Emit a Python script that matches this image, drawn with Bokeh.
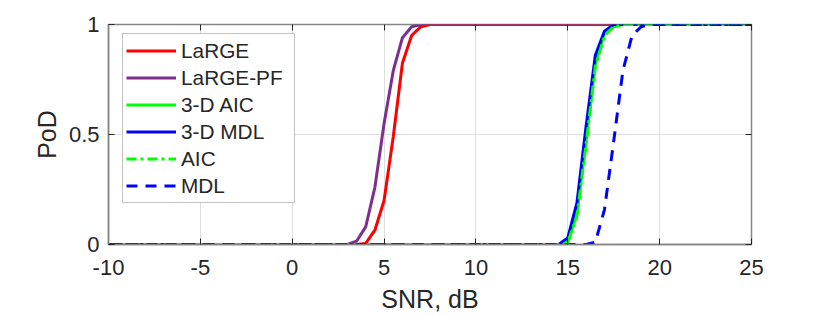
from bokeh.plotting import figure
from bokeh.models import (Legend, LegendItem, LinearAxis, FixedTicker, Range1d)
from bokeh.embed import file_html
from bokeh.resources import INLINE

# ---- data ----
large_x = [-10, 3.5, 4.0, 4.5, 5.0, 5.5, 6.0, 6.5, 7.0, 7.5, 25]
large_y = [0, 0, 0.005, 0.065, 0.20, 0.49, 0.825, 0.95, 0.99, 1, 1]

largepf_x = [-10, 3.0, 3.5, 4.0, 4.5, 5.0, 5.5, 6.0, 6.5, 7.0, 25]
largepf_y = [0, 0, 0.015, 0.08, 0.26, 0.55, 0.79, 0.94, 0.99, 1, 1]

aic3d_x = [-10, 14.5, 15.0, 15.5, 16.0, 16.5, 17.0, 17.5, 18.0, 25]
aic3d_y = [0, 0, 0.01, 0.14, 0.47, 0.82, 0.96, 0.99, 1, 1]

mdl3d_x = [-10, 14.5, 15.0, 15.5, 16.0, 16.5, 17.0, 17.5, 25]
mdl3d_y = [0, 0, 0.03, 0.19, 0.54, 0.86, 0.97, 1, 1]

aic_x = [-10, 14.5, 15.0, 15.5, 16.0, 16.5, 17.0, 17.5, 18.0, 25]
aic_y = [0, 0, 0.01, 0.13, 0.46, 0.81, 0.95, 0.99, 1, 1]

mdl_x = [-10, 16.0, 16.5, 17.0, 17.5, 18.0, 18.5, 19.0, 19.5, 25]
mdl_y = [0, 0, 0.01, 0.16, 0.47, 0.79, 0.95, 0.99, 1, 1]

x_ticks = [-10, -5, 0, 5, 10, 15, 20, 25]
x_tick_labels = {-10: "-10", -5: "-5", 0: "0", 5: "5", 10: "10", 15: "15", 20: "20", 25: "25"}
y_ticks = [0, 0.5, 1]
y_tick_labels = {0: "0", 0.5: "0.5", 1: "1"}

FONT = "Liberation Sans"
TXT = "#262626"
AX = "#858585"

p = figure(width=830, height=316, output_backend="svg", toolbar_location=None,
           x_range=Range1d(-10, 25), y_range=Range1d(0, 1),
           min_border_left=108, min_border_right=79,
           min_border_top=24, min_border_bottom=72)
p.background_fill_color = "white"
p.border_fill_color = "white"
p.outline_line_color = AX
p.outline_line_width = 1.5

for ax in (p.xaxis[0], p.yaxis[0]):
    ax.axis_line_color = AX
    ax.axis_line_width = 1.5
    ax.major_tick_line_color = TXT
    ax.major_tick_in = 6
    ax.major_tick_out = 0
    ax.minor_tick_in = 0
    ax.minor_tick_out = 0
    ax.major_label_text_font = FONT
    ax.major_label_text_font_size = "22px"
    ax.major_label_text_color = TXT
    ax.axis_label_text_font = FONT
    ax.axis_label_text_font_size = "25px"
    ax.axis_label_text_font_style = "normal"
    ax.axis_label_text_color = TXT

p.xaxis[0].ticker = FixedTicker(ticks=x_ticks)
p.xaxis[0].major_label_overrides = x_tick_labels
p.yaxis[0].ticker = FixedTicker(ticks=y_ticks)
p.yaxis[0].major_label_overrides = y_tick_labels
p.xaxis[0].axis_label = "SNR, dB"
p.yaxis[0].axis_label = "PoD"
p.xaxis[0].major_label_standoff = 15
p.yaxis[0].major_label_standoff = 9
p.xaxis[0].axis_label_standoff = 7
p.yaxis[0].axis_label_standoff = 5

# box ticks on top and right (no labels)
top = LinearAxis(ticker=FixedTicker(ticks=x_ticks),
                 major_label_overrides={t: "" for t in x_ticks},
                 axis_line_color=None, major_tick_in=6, major_tick_out=0,
                 major_tick_line_color=TXT, minor_tick_in=0, minor_tick_out=0)
right = LinearAxis(ticker=FixedTicker(ticks=y_ticks),
                   major_label_overrides={t: "" for t in y_ticks},
                   axis_line_color=None, major_tick_in=6, major_tick_out=0,
                   major_tick_line_color=TXT, minor_tick_in=0, minor_tick_out=0)
p.add_layout(top, "above")
p.add_layout(right, "right")

p.xgrid.grid_line_color = "#dedede"
p.ygrid.grid_line_color = "#dedede"
p.xgrid.ticker = FixedTicker(ticks=x_ticks)
p.ygrid.ticker = FixedTicker(ticks=y_ticks)

LW = 3
r1 = p.line(large_x, large_y, line_color="#ff0000", line_width=LW)
r2 = p.line(largepf_x, largepf_y, line_color="#7e2f8e", line_width=LW)
r3 = p.line(aic3d_x, aic3d_y, line_color="#00ff00", line_width=LW)
r4 = p.line(mdl3d_x, mdl3d_y, line_color="#0000ff", line_width=LW)
r5 = p.line(aic_x, aic_y, line_color="#00ff00", line_width=LW, line_dash="10 4 3 4")
r6 = p.line(mdl_x, mdl_y, line_color="#0000ff", line_width=LW, line_dash="11 8")

legend = Legend(items=[
    LegendItem(label="LaRGE", renderers=[r1]),
    LegendItem(label="LaRGE-PF", renderers=[r2]),
    LegendItem(label="3-D AIC", renderers=[r3]),
    LegendItem(label="3-D MDL", renderers=[r4]),
    LegendItem(label="AIC", renderers=[r5]),
    LegendItem(label="MDL", renderers=[r6]),
], location=(14, 41))
legend.label_text_font = FONT
legend.label_text_font_size = "20.8px"
legend.label_text_color = TXT
legend.glyph_width = 50
legend.glyph_height = 27
legend.label_height = 27
legend.label_width = 110
legend.label_standoff = 5
legend.spacing = 0
legend.padding = 3
legend.margin = 0
legend.border_line_color = AX
legend.border_line_width = 1.5
legend.background_fill_color = "white"
legend.background_fill_alpha = 1
p.add_layout(legend, "center")

open("out.html", "w").write(file_html(p, INLINE))
